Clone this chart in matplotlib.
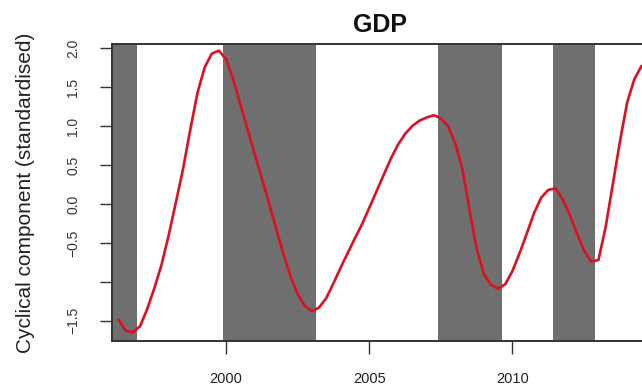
import matplotlib
matplotlib.use("Agg")
import matplotlib.pyplot as plt
from matplotlib.ticker import FixedLocator, FixedFormatter

plt.rcParams["font.family"] = ["Liberation Sans", "DejaVu Sans"]

# Quarterly cyclical component of GDP (standardised)
years = [
    1996.25, 1996.50, 1996.75, 1997.00, 1997.25, 1997.50, 1997.75,
    1998.00, 1998.25, 1998.50, 1998.75, 1999.00, 1999.25, 1999.50, 1999.75,
    2000.00, 2000.25, 2000.50, 2000.75, 2001.00, 2001.25, 2001.50, 2001.75,
    2002.00, 2002.25, 2002.50, 2002.75, 2003.00, 2003.25, 2003.50, 2003.75,
    2004.00, 2004.25, 2004.50, 2004.75, 2005.00, 2005.25, 2005.50, 2005.75,
    2006.00, 2006.25, 2006.50, 2006.75, 2007.00, 2007.25, 2007.50, 2007.75,
    2008.00, 2008.25, 2008.50, 2008.75, 2009.00, 2009.25, 2009.50, 2009.75,
    2010.00, 2010.25, 2010.50, 2010.75, 2011.00, 2011.25, 2011.50, 2011.75,
    2012.00, 2012.25, 2012.50, 2012.75, 2013.00, 2013.25, 2013.50, 2013.75,
    2014.00, 2014.25, 2014.50,
]
gdp_cycle = [
    -1.49, -1.63, -1.65, -1.57, -1.35, -1.08, -0.78,
    -0.40, 0.02, 0.45, 0.95, 1.42, 1.75, 1.93, 1.97,
    1.86, 1.60, 1.28, 0.96, 0.64, 0.33, 0.01, -0.32,
    -0.64, -0.93, -1.16, -1.31, -1.38, -1.33, -1.21, -1.02,
    -0.82, -0.63, -0.44, -0.26, -0.05, 0.16, 0.37, 0.58,
    0.76, 0.90, 1.00, 1.07, 1.11, 1.14, 1.10, 1.00,
    0.78, 0.45, -0.08, -0.58, -0.90, -1.04, -1.09, -1.03,
    -0.86, -0.63, -0.38, -0.12, 0.08, 0.18, 0.20, 0.06,
    -0.14, -0.38, -0.60, -0.74, -0.72, -0.30, 0.25, 0.80,
    1.30, 1.60, 1.77,
]

# Recession periods (start, end)
recession_start = [1995.90, 1999.88, 2007.40, 2011.41]
recession_end = [1996.88, 2003.14, 2009.64, 2012.88]

x_ticks = [2000, 2005, 2010]
x_tick_labels = ["2000", "2005", "2010"]
y_ticks = [2.0, 1.5, 1.0, 0.5, 0.0, -0.5, -1.0, -1.5]
y_tick_labels = ["2.0", "1.5", "1.0", "0.5", "0.0", "\u22120.5", "", "\u22121.5"]

W, H = 642, 388
fig = plt.figure(figsize=(W / 100, H / 100), dpi=100)
left, right, top, bottom = 112, 648, 44, 341
ax = fig.add_axes([left / W, 1 - bottom / H, (right - left) / W, (bottom - top) / H])

for s, e in zip(recession_start, recession_end):
    ax.axvspan(s, e, color="#6f6f6f", lw=0, zorder=1)

ax.plot(years, gdp_cycle, color="#dc1020", lw=1.9, zorder=3, solid_joinstyle="round")

ax.set_xlim(1996.02, 2014.73)
ax.set_ylim(-1.761, 2.055)

ax.xaxis.set_major_locator(FixedLocator(x_ticks))
ax.xaxis.set_major_formatter(FixedFormatter(x_tick_labels))
ax.yaxis.set_major_locator(FixedLocator(y_ticks))
ax.yaxis.set_major_formatter(FixedFormatter(y_tick_labels))

ax.tick_params(axis="x", direction="out", length=9, width=1.0, color="#333333",
               pad=13, labelsize=10.5, labelcolor="#222222")
ax.tick_params(axis="y", direction="out", length=9, width=1.0, color="#333333",
               pad=14, labelsize=10, labelcolor="#333333")
for lbl in ax.get_yticklabels():
    lbl.set_rotation(90)
    lbl.set_va("center")

for sp in ax.spines.values():
    sp.set_color("#333333")
    sp.set_linewidth(1.4)

ax.set_title("GDP", fontsize=18, fontweight="bold", pad=9, color="#111111")
ax.set_ylabel("Cyclical component (standardised)", fontsize=15, color="#222222",
              labelpad=22)

fig.savefig("out.png", dpi=100)
